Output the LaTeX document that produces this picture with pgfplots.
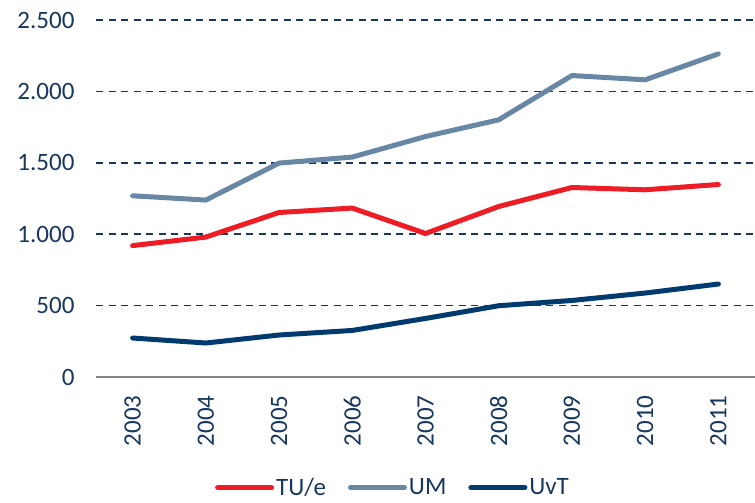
\documentclass[border=0pt]{standalone}
\usepackage{fontspec}
\setmainfont{Carlito}
\usepackage{pgfplots}
\pgfplotsset{compat=1.18}
\definecolor{tue}{HTML}{EE1C25}
\definecolor{um}{HTML}{6787A5}
\definecolor{uvt}{HTML}{003A6E}
\definecolor{txt}{HTML}{17375E}
\definecolor{axgray}{HTML}{868686}
\begin{document}
\begin{tikzpicture}
\begin{axis}[
  name=ax,
  scale only axis,
  width=659pt, height=357pt,
  xmin=-0.5, xmax=8.5,
  ymin=0, ymax=2500,
  ytick={0,500,1000,1500,2000,2500},
  xtick={0,...,8},
  xticklabels={2003,2004,2005,2006,2007,2008,2009,2010,2011},
  axis y line*=left,
  axis x line*=bottom,
  y axis line style={draw=none},
  x axis line style={draw=axgray, line width=1.5pt, -},
  major tick length=0pt,
  ymajorgrids,
  grid style={draw=txt, line width=1.6pt, dash pattern=on 7pt off 5.5pt},
  tick label style={font=\fontsize{25}{30}\selectfont, text=txt},
  /pgf/number format/assume math mode=true,
  /pgf/number format/1000 sep={.},
  yticklabel style={anchor=east, xshift=-18pt},
  xticklabel style={rotate=90, anchor=east, xshift=-15pt},
  legend columns=3,
  legend style={at={(0.4507,-0.31)}, anchor=center, draw=none, fill=none,
    font=\fontsize{25}{30}\selectfont, text=txt, inner sep=0pt,
    /tikz/every even column/.append style={column sep=20pt}},
  legend image code/.code={\draw[#1, line width=5pt] (0pt,0pt) -- (54pt,0pt);},
  every axis plot/.append style={line width=5pt, line cap=round, line join=round},
]
\addplot[tue] coordinates {(0,920) (1,980) (2,1152) (3,1183) (4,1005) (5,1194) (6,1327) (7,1311) (8,1348)};
\addlegendentry{TU/e}
\addplot[um] coordinates {(0,1269) (1,1239) (2,1498) (3,1540) (4,1684) (5,1801) (6,2111) (7,2081) (8,2263)};
\addlegendentry{UM}
\addplot[uvt] coordinates {(0,273) (1,238) (2,294) (3,326) (4,410) (5,499) (6,536) (7,588) (8,651)};
\addlegendentry{UvT}
\end{axis}
\pgfresetboundingbox
\path ([xshift=-96pt,yshift=-125pt]ax.south west) rectangle ([yshift=20pt]ax.north east);
\end{tikzpicture}
\end{document}
